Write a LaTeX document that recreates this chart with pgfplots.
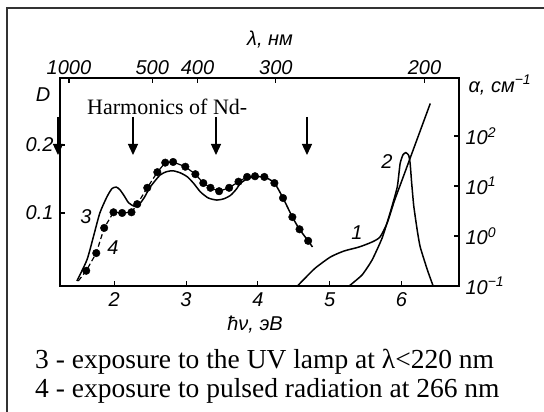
\documentclass[border=0pt]{standalone}
\usepackage{fontspec}
\setmainfont{Liberation Serif}
\newfontfamily\tickfont{Liberation Sans}
\usepackage{pgfplots}
\pgfplotsset{compat=1.18}
\usetikzlibrary{arrows.meta}
\newcommand{\tf}{\tickfont\itshape\fontsize{20bp}{22bp}\selectfont}
\begin{document}
\begin{tikzpicture}[x=1bp,y=1bp]
\path[use as bounding box] (0bp,0bp) rectangle (544bp,412bp);
% frame
\draw[line width=1.3bp, black!80] (7bp,0bp) -- (7bp,404bp) -- (544bp,404bp);

\begin{axis}[
  at={(60bp,126bp)}, anchor=south west, scale only axis,
  width=399bp, height=208bp,
  xmin=1.245, xmax=6.80, ymin=-0.0074, ymax=0.2985,
  xtick={2,3,4,5,6}, xticklabels={2,3,4,5,6}, xtick pos=left,
  ytick={0.1,0.2}, yticklabels={0.1,0.2}, ytick pos=left,
  tick align=inside, major tick length=5bp,
  axis line style={line width=1.4bp},
  every tick/.style={line width=1.1bp, black},
  ticklabel style={font=\tf},
  xticklabel style={yshift=-3bp},
  yticklabel style={xshift=-3bp},
]
% curve 3 (solid)
\addplot[black, line width=1.5bp, smooth, tension=0.4] coordinates {
(1.48,0) (1.62,0.031) (1.71,0.065) (1.80,0.100) (1.90,0.124) (1.97,0.136)
(2.03,0.138) (2.08,0.134) (2.14,0.125) (2.20,0.115) (2.28,0.110) (2.35,0.113)
(2.42,0.123) (2.50,0.138) (2.64,0.156) (2.74,0.161) (2.82,0.162) (2.92,0.159)
(3.02,0.153) (3.11,0.143) (3.20,0.131) (3.31,0.122) (3.43,0.119) (3.53,0.121)
(3.62,0.126) (3.70,0.135) (3.76,0.144) (3.85,0.150) (3.94,0.153) (4.09,0.153)
(4.23,0.144) (4.35,0.122) (4.48,0.094) (4.58,0.076) (4.70,0.059) (4.76,0.050)
};
% curve 4 dashed line
\addplot[black, line width=1.2bp, dash pattern=on 5bp off 3bp] coordinates {
(1.50,0) (1.61,0.015) (1.75,0.041) (1.86,0.078) (1.99,0.101) (2.11,0.100)
(2.24,0.101) (2.32,0.113) (2.46,0.137) (2.60,0.160)
};
\addplot[black, line width=1.2bp] coordinates {
(2.60,0.160) (2.71,0.174) (2.82,0.175) (2.99,0.168) (3.13,0.157) (3.24,0.144)
(3.34,0.137) (3.46,0.132) (3.60,0.137) (3.73,0.146) (3.85,0.153) (3.96,0.154)
};
% curve 4 dots
\addplot[only marks, mark=*, mark size=3.8bp, black] coordinates {
(1.61,0.015) (1.75,0.041) (1.86,0.078) (1.99,0.101) (2.11,0.100) (2.24,0.101)
(2.32,0.113) (2.46,0.137) (2.60,0.160) (2.71,0.174) (2.82,0.175) (2.99,0.168)
(3.13,0.157) (3.24,0.144) (3.34,0.137) (3.46,0.132) (3.60,0.137) (3.73,0.146)
(3.85,0.153) (3.96,0.154) (4.09,0.153) (4.23,0.144) (4.35,0.122) (4.48,0.094)
(4.58,0.076) (4.70,0.059)
};
\end{axis}

\begin{axis}[
  at={(60bp,126bp)}, anchor=south west, scale only axis,
  width=399bp, height=208bp,
  xmin=1.245, xmax=6.80, ymode=log, ymin=0.1, ymax=1445,
  axis x line*=top, axis y line*=right, axis line style={-, line width=1.4bp},
  xtick={1.37,2.53,3.16,4.25,6.32}, xticklabels={1000,500,400,300,200},
  ytick={0.1,1,10,100},
  yticklabels={10\textsuperscript{−1},10\textsuperscript{0},10\textsuperscript{1},10\textsuperscript{2}},
  yminorticks=false,
  tick align=inside, major tick length=5bp,
  every tick/.style={line width=1.1bp, black},
  ticklabel style={font=\tf},
  yticklabel style={xshift=3bp},
]
% curve 1
\addplot[black, line width=1.5bp, smooth, tension=0.4] coordinates {
(4.55,0.1) (4.66,0.145) (4.80,0.229) (5.01,0.380) (5.20,0.501) (5.41,0.603)
(5.59,0.759) (5.70,0.955) (5.80,1.82) (5.90,5.01) (6.00,12.3) (6.10,30.2)
(6.20,74.1) (6.30,182) (6.40,447)
};
% curve 2
\addplot[black, line width=1.5bp, smooth, tension=0.3] coordinates {
(5.27,0.1) (5.45,0.166) (5.59,0.331) (5.73,0.912) (5.84,2.88) (5.94,9.5)
(5.98,28) (6.02,42) (6.06,46.5) (6.10,41) (6.12,28) (6.14,12)
(6.17,4.0) (6.22,1.26) (6.26,0.603) (6.36,0.209) (6.44,0.1)
};
\end{axis}

% axis labels
\node[font=\tf] at (270bp,372bp) {λ, нм};
\node[font=\tf] at (43bp,317bp) {D};
\node[font=\tf, anchor=west] at (465bp,327bp) {α, см\textsuperscript{−1}};
\node[font=\tf] at (255bp,87bp) {ħν, эВ};
% curve labels
\node[font=\tf] at (86bp,195bp) {3};
\node[font=\tf] at (113bp,164bp) {4};
\node[font=\tf] at (357bp,179bp) {1};
\node[font=\tf] at (387bp,250bp) {2};
% harmonics
\node[font=\fontsize{22bp}{24bp}\selectfont, anchor=base west, inner sep=0pt] at (87bp,297bp) {Harmonics of Nd-};
\foreach \xx in {58,133,216,307}
  \draw[line width=1.3bp, -{Triangle[length=11bp,width=10bp]}] (\xx bp,295bp) -- (\xx bp,257bp);
% caption lines
\node[font=\fontsize{27.5bp}{29bp}\selectfont, anchor=base west, inner sep=0pt] at (35bp,43bp) {3 - exposure to the UV lamp at λ<220 nm};
\node[font=\fontsize{27.5bp}{29bp}\selectfont, anchor=base west, inner sep=0pt] at (35bp,15bp) {4 - exposure to pulsed radiation at 266 nm};
\end{tikzpicture}
\end{document}
